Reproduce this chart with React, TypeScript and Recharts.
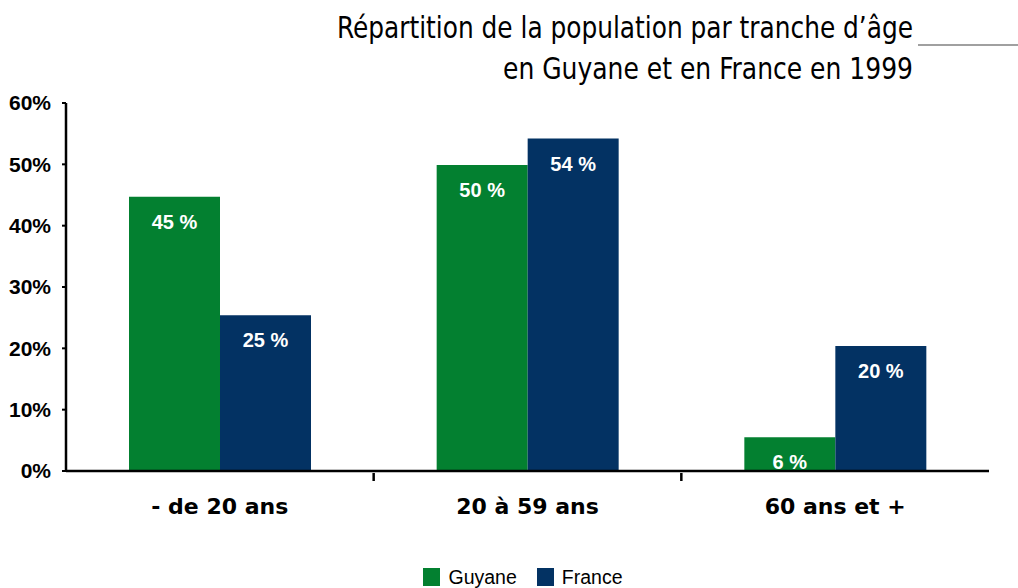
import React from 'react';
import { BarChart, Bar, XAxis, YAxis, Legend, LabelList } from 'recharts';

const categories = ['- de 20 ans', '20 à 59 ans', '60 ans et +'];
const guyane = [44.7, 49.9, 5.5];
const france = [25.4, 54.2, 20.4];
const seriesNames = ['Guyane', 'France'];
const yTicks = [0, 10, 20, 30, 40, 50, 60];

const GREEN = '#038030';
const BLUE = '#033263';
const CONDENSED = "'Liberation Sans Narrow', 'DejaVu Sans Condensed', sans-serif";
const SANS = "'Liberation Sans', Arial, sans-serif";
const HEAVY = "'DejaVu Sans', sans-serif";

const data = categories.map((name, i) => ({
  name,
  Guyane: guyane[i],
  France: france[i],
}));

const CategoryTick = (props: any) => {
  const { x, y, payload, index } = props;
  const half = payload.offset || 0;
  return (
    <g>
      <text
        x={x}
        y={y + 35}
        textAnchor="middle"
        fontFamily={HEAVY}
        fontWeight={700}
        fontSize={22}
        fill="#000"
      >
        {payload.value}
      </text>
      {index < categories.length - 1 && (
        <line x1={x + half} x2={x + half} y1={y - 6} y2={y + 2} stroke="#000" strokeWidth={2.5} />
      )}
    </g>
  );
};

const renderLegend = (props: any) => {
  const items = [...(props.payload || [])].sort(
    (a: any, b: any) => seriesNames.indexOf(a.value) - seriesNames.indexOf(b.value)
  );
  return (
    <div
      style={{
        display: 'flex',
        justifyContent: 'center',
        alignItems: 'center',
        height: 22,
        fontFamily: SANS,
        fontSize: 19.5,
        color: '#000',
      }}
    >
      {items.map((p: any, i: number) => (
        <span
          key={i}
          style={{ display: 'flex', alignItems: 'center', marginRight: i < items.length - 1 ? 20 : 0 }}
        >
          <span style={{ width: 17, height: 18, background: p.color, marginRight: 8, display: 'inline-block' }} />
          {p.value}
        </span>
      ))}
    </div>
  );
};

const pct = (v: number) => `${Math.round(v)} %`;

const labelStyle = {
  fill: '#fff',
  fontFamily: SANS,
  fontWeight: 700,
  fontSize: 20,
};

export default function App() {
  return (
    <div style={{ position: 'absolute', left: 0, top: 0, width: 1018, height: 588, background: '#fff' }}>
      <svg width={1018} height={90} style={{ position: 'absolute', left: 0, top: 0 }}>
        <text
          x={913}
          y={38}
          textAnchor="end"
          fontFamily={CONDENSED}
          fontSize={31}
          textLength={576}
          lengthAdjust="spacingAndGlyphs"
          fill="#000"
        >
          Répartition de la population par tranche d’âge
        </text>
        <text
          x={913}
          y={79}
          textAnchor="end"
          fontFamily={CONDENSED}
          fontSize={31}
          textLength={410}
          lengthAdjust="spacingAndGlyphs"
          fill="#000"
        >
          en Guyane et en France en 1999
        </text>
        <line x1={918} x2={1018} y1={45} y2={45} stroke="#808080" strokeWidth={1.5} />
      </svg>
      <BarChart
        width={1018}
        height={588}
        data={data}
        margin={{ top: 103, right: 29, left: 0, bottom: 35 }}
        barGap={0}
        barCategoryGap={63}
        style={{ position: 'absolute', left: 0, top: 0 }}
      >
        <XAxis
          dataKey="name"
          axisLine={{ stroke: '#000', strokeWidth: 2.5 }}
          tickLine={false}
          tick={<CategoryTick />}
          interval={0}
          height={60}
        />
        <YAxis
          width={66}
          domain={[0, 60]}
          ticks={yTicks}
          tickFormatter={(v: number) => `${v}%`}
          axisLine={{ stroke: '#000', strokeWidth: 2.5 }}
          tickLine={{ stroke: '#000', strokeWidth: 2 }}
          tickSize={4}
          tickMargin={11}
          tick={{ fontFamily: SANS, fontWeight: 700, fontSize: 21, fill: '#000' }}
        />
        <Legend
          verticalAlign="bottom"
          content={renderLegend}
          wrapperStyle={{ top: 566, bottom: 'auto', left: 28, width: 990 }}
        />
        <Bar dataKey="Guyane" fill={GREEN} isAnimationActive={false}>
          <LabelList dataKey="Guyane" position="insideTop" offset={18} formatter={pct} {...labelStyle} />
        </Bar>
        <Bar dataKey="France" fill={BLUE} isAnimationActive={false}>
          <LabelList dataKey="France" position="insideTop" offset={18} formatter={pct} {...labelStyle} />
        </Bar>
      </BarChart>
    </div>
  );
}
